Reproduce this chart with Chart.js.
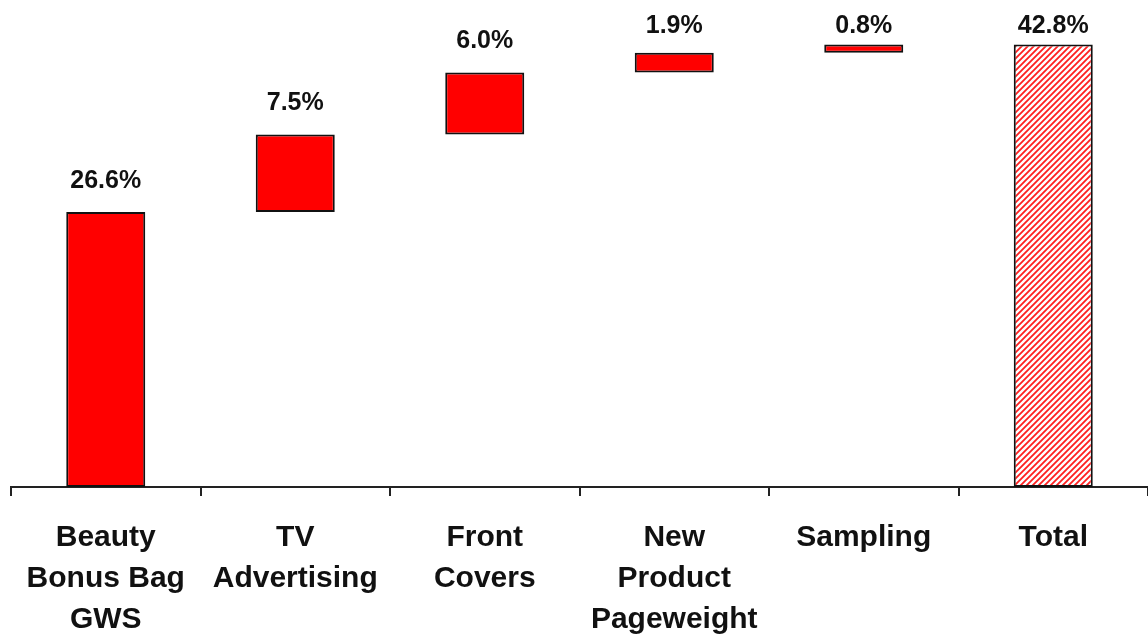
<!DOCTYPE html>
<html>
<head>
<meta charset="utf-8">
<script src="https://cdn.jsdelivr.net/npm/chart.js@4.4.1/dist/chart.umd.min.js"></script>
<style>
	html, body { margin: 0; padding: 0; background: #fff; }
	#wrap { width: 1148px; height: 642px; position: relative; }
</style>
</head>
<body>
<div id="wrap"><canvas id="waterfall"></canvas></div>
<script>
	const categories = [
		['Beauty', 'Bonus Bag', 'GWS'],
		['TV', 'Advertising'],
		['Front', 'Covers'],
		['New', 'Product', 'Pageweight'],
		['Sampling'],
		['Total']
	];
	// incremental uplift per driver, last entry is the total
	const increments = [26.6, 7.5, 6.0, 1.9, 0.8];
	const total = 42.8;

	const FONT = '"Liberation Sans", Arial, sans-serif';

	// build floating [start, end] ranges for the waterfall
	function buildRanges(){
		const out = [];
		let run = 0;
		for(const v of increments){
			out.push([round1(run), round1(run + v)]);
			run += v;
		}
		out.push([0, total]);
		return out;
	}
	function round1(n){ return Math.round(n * 10) / 10; }

	const valueLabels = increments.concat([total]).map(v => v.toFixed(1) + '%');

	function hatchPattern(){
		const c = document.createElement('canvas');
		c.width = 6; c.height = 6;
		const g = c.getContext('2d');
		g.fillStyle = '#fff';
		g.fillRect(0, 0, 6, 6);
		g.strokeStyle = '#ff2020';
		g.lineWidth = 1.8;
		g.beginPath();
		g.moveTo(-1, 7); g.lineTo(7, -1);
		g.moveTo(-4, 4); g.lineTo(4, -4);
		g.moveTo(2, 10); g.lineTo(10, 2);
		g.stroke();
		return g.createPattern(c, 'repeat');
	}

	const ranges = buildRanges();
	const fills = ranges.map((r, i) => i === ranges.length - 1 ? hatchPattern() : '#ff0000');

	// percentage labels above each bar, kept clear of the top edge
	const valueLabelPlugin = {
		id: 'valueLabels',
		afterDatasetsDraw(chart){
			const ctx = chart.ctx;
			const meta = chart.getDatasetMeta(0);
			ctx.save();
			ctx.font = 'bold 25px ' + FONT;
			ctx.fillStyle = '#111';
			ctx.textAlign = 'center';
			ctx.textBaseline = 'middle';
			meta.data.forEach((bar, i) => {
				const top = Math.min(bar.y, bar.base);
				const y = Math.max(top - 31, 26);
				ctx.fillText(valueLabels[i], bar.x, y);
			});
			ctx.restore();
		}
	};

	new Chart(document.getElementById('waterfall'), {
		type: 'bar',
		data: {
			labels: categories,
			datasets: [{
				data: ranges,
				backgroundColor: fills,
				borderColor: '#111',
				borderWidth: 2,
				borderSkipped: false,
				barPercentage: 0.417,
				categoryPercentage: 1
			}]
		},
		options: {
			responsive: true,
			maintainAspectRatio: false,
			animation: false,
			layout: { padding: { left: 11, right: 0, top: 0, bottom: 0 } },
			plugins: {
				legend: { display: false },
				tooltip: { enabled: false }
			},
			scales: {
				x: {
					afterFit(scale){ scale.height = 155; },
					grid: {
						display: true,
						drawOnChartArea: false,
						drawTicks: true,
						tickLength: 9,
						offset: true,
						color: '#222',
						lineWidth: 2
					},
					border: { display: true, color: '#222', width: 2 },
					ticks: {
						color: '#111',
						padding: 21,
						maxRotation: 0,
						autoSkip: false,
						font: { family: FONT, size: 30, weight: 'bold', lineHeight: 41 / 30 }
					}
				},
				y: {
					display: false,
					min: 0,
					max: 47.1
				}
			}
		},
		plugins: [valueLabelPlugin]
	});
</script>
</body>
</html>
